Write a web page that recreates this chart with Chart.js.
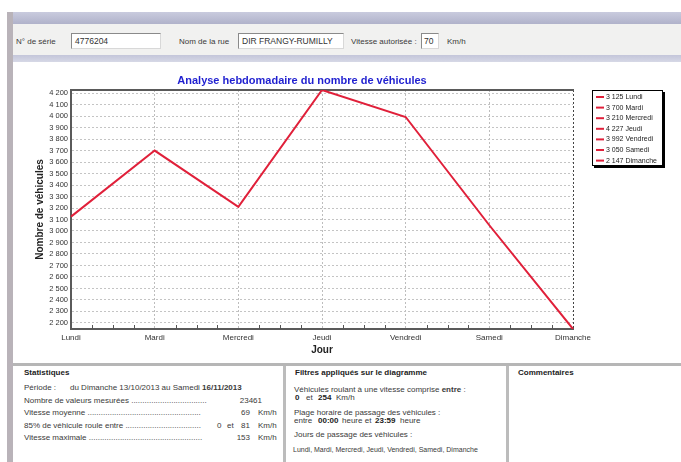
<!DOCTYPE html>
<html><head><meta charset="utf-8">
<script src="https://cdn.jsdelivr.net/npm/chart.js@4"></script>
<style>
body{margin:0;width:681px;height:462px;overflow:hidden;background:#fff;font-family:"Liberation Sans",Arial,sans-serif;position:relative;color:#3a3a3a;font-size:8px}
.a{position:absolute;white-space:nowrap;line-height:10px}
.b{font-weight:bold;color:#222}
.box{position:absolute;background:#fff;border-top:1px solid #8a8a8a;border-left:1px solid #8a8a8a;border-bottom:1px solid #d8d8d8;border-right:1px solid #d8d8d8;box-sizing:border-box;font-size:8.5px;line-height:14px;padding-left:3px;color:#333;white-space:nowrap}
#c{position:absolute;left:13px;top:62px}
</style></head><body>
<div style="position:absolute;left:7px;top:12px;width:674px;height:12px;background:linear-gradient(#c9cbde,#b0b2ca)"></div>
<div style="position:absolute;left:7px;top:24px;width:674px;height:31px;background:#f1f1f0"></div>
<div style="position:absolute;left:7px;top:55px;width:674px;height:7px;background:linear-gradient(#c4c6da,#d6d8e6)"></div>
<div style="position:absolute;left:7px;top:12px;width:6px;height:450px;background:#b9b3b9"></div>

<div class="a" style="left:16px;top:37px">N° de série</div>
<div class="box" style="left:71px;top:33px;width:90px;height:16px">4776204</div>
<div class="a" style="left:179px;top:37px">Nom de la rue</div>
<div class="box" style="left:238px;top:33px;width:106px;height:16px">DIR FRANGY-RUMILLY</div>
<div class="a" style="left:351px;top:37px">Vitesse autorisée :</div>
<div class="box" style="left:421px;top:33px;width:18px;height:16px;padding-left:2px">70</div>
<div class="a" style="left:447px;top:37px">Km/h</div>

<canvas id="c" width="668" height="300"></canvas>

<div style="position:absolute;left:13px;top:363px;width:668px;height:3px;background:#b6b6b6"></div>
<div style="position:absolute;left:283px;top:366px;width:3px;height:96px;background:#bcbcbc"></div>
<div style="position:absolute;left:506px;top:366px;width:3px;height:96px;background:#bcbcbc"></div>

<div class="a b" style="left:24px;top:368px">Statistiques</div>
<div class="a" style="left:24px;top:383px">Période :</div>
<div class="a" style="left:70px;top:383px">du Dimanche 13/10/2013 au Samedi <b>16/11/2013</b></div>
<div class="a" style="left:24px;top:396px">Nombre de valeurs mesurées ..................................</div>
<div class="a" style="left:230px;top:396px;width:32px;text-align:right">23461</div>
<div class="a" style="left:24px;top:408px">Vitesse moyenne ...................................................</div>
<div class="a" style="left:230px;top:408px;width:20px;text-align:right">69</div>
<div class="a" style="left:258px;top:408px">Km/h</div>
<div class="a" style="left:24px;top:421px">85% de véhicule roule entre ..................................</div>
<div class="a" style="left:217px;top:421px">0</div>
<div class="a" style="left:227px;top:421px">et</div>
<div class="a" style="left:230px;top:421px;width:20px;text-align:right">81</div>
<div class="a" style="left:258px;top:421px">Km/h</div>
<div class="a" style="left:24px;top:433px">Vitesse maximale ...................................................</div>
<div class="a" style="left:230px;top:433px;width:20px;text-align:right">153</div>
<div class="a" style="left:258px;top:433px">Km/h</div>

<div class="a b" style="left:295px;top:368px">Filtres appliqués sur le diagramme</div>
<div class="a" style="left:294px;top:385px">Véhicules roulant à une vitesse comprise <b>entre</b> :</div>
<div class="a b" style="left:295px;top:393px">0</div>
<div class="a" style="left:306px;top:393px">et</div>
<div class="a b" style="left:318px;top:393px">254</div>
<div class="a" style="left:336px;top:393px">Km/h</div>
<div class="a" style="left:294px;top:408px">Plage horaire de passage des véhicules :</div>
<div class="a" style="left:294px;top:416px">entre</div>
<div class="a b" style="left:318px;top:416px">00:00</div>
<div class="a" style="left:342px;top:416px">heure et</div>
<div class="a b" style="left:375px;top:416px">23:59</div>
<div class="a" style="left:400px;top:416px">heure</div>
<div class="a" style="left:294px;top:430px">Jours de passage des véhicules :</div>
<div class="a" style="left:293px;top:445px;font-size:7px">Lundi, Mardi, Mercredi, Jeudi, Vendredi, Samedi, Dimanche</div>

<div class="a b" style="left:518px;top:368px">Commentaires</div>

<script>
const days = ['Lundi','Mardi','Mercredi','Jeudi','Vendredi','Samedi','Dimanche'];
const vehicles = [3125, 3700, 3210, 4227, 3992, 3050, 2147];
const yTicks = [2200,2300,2400,2500,2600,2700,2800,2900,3000,3100,3200,3300,3400,3500,3600,3700,3800,3900,4000,4100,4200];
const yMin = 2147;
const yMax = 4227;
const titleText = 'Analyse hebdomadaire du nombre de véhicules';
const yTitle = 'Nombre de véhicules';
const xTitle = 'Jour';

const fmt = n => String(n).replace(/\B(?=(\d{3})+(?!\d))/g, ' ');
const FONT = '"Liberation Sans", Arial, sans-serif';
const RED = '#e0203a';

const extras = {
  id: 'extras',
  beforeDatasetsDraw(chart) {
    const {ctx, chartArea: a, scales: {x}} = chart;
    ctx.save();
    ctx.strokeStyle = '#5a5a5a'; ctx.lineWidth = 2;
    ctx.beginPath(); ctx.moveTo(a.left - 1, a.top); ctx.lineTo(a.right + 1, a.top); ctx.stroke();
    ctx.lineWidth = 1; ctx.strokeStyle = '#555';
    for (let i = 0; i < days.length - 1; i++) {
      for (let k = 1; k < 4; k++) {
        const px = Math.round(x.getPixelForValue(i + k / 4)) + 0.5;
        ctx.beginPath(); ctx.moveTo(px, a.bottom); ctx.lineTo(px, a.bottom - 4); ctx.stroke();
      }
    }
    ctx.restore();
  },
  afterDraw(chart) {
    const {ctx} = chart;
    const bx = 579, by = 28, bw = 71, bh = 76;
    ctx.save();
    ctx.fillStyle = '#000';
    ctx.fillRect(bx + 2, by + 2, bw, bh);
    ctx.fillStyle = '#fff';
    ctx.fillRect(bx, by, bw, bh);
    ctx.strokeStyle = '#000'; ctx.lineWidth = 1;
    ctx.strokeRect(bx + 0.5, by + 0.5, bw - 1, bh - 1);
    ctx.font = '7px ' + FONT;
    ctx.textBaseline = 'middle';
    for (let i = 0; i < days.length; i++) {
      const y = by + 7 + i * 10.6;
      ctx.strokeStyle = RED; ctx.lineWidth = 2;
      ctx.beginPath(); ctx.moveTo(bx + 4, y); ctx.lineTo(bx + 12, y); ctx.stroke();
      ctx.fillStyle = '#222';
      ctx.fillText(fmt(vehicles[i]) + ' ' + days[i], bx + 14, y);
    }
    ctx.restore();
  }
};

new Chart(document.getElementById('c'), {
  type: 'line',
  data: {
    labels: days,
    datasets: [{data: vehicles, borderColor: RED, borderWidth: 2, pointRadius: 0, tension: 0, fill: false}]
  },
  options: {
    responsive: false, animation: false, devicePixelRatio: 1,
    layout: {padding: {left: 18, right: 108, top: 0, bottom: 0}},
    plugins: {
      legend: {display: false}, tooltip: {enabled: false},
      title: {display: true, text: titleText, color: '#1f1fd0',
        font: {family: FONT, size: 11, weight: 'bold'}, padding: {top: 12, bottom: 2.8}}
    },
    scales: {
      x: {
        offset: false,
        grid: {color: ctx => ctx.index === days.length - 1 ? '#444' : '#bdbdbd', lineWidth: 1, drawTicks: false},
        border: {display: true, color: '#5a5a5a', width: 2, dash: [2, 2]},
        ticks: {padding: 4, color: '#333', font: {family: FONT, size: 8}, maxRotation: 0, autoSkip: false},
        title: {display: true, text: xTitle, color: '#222', font: {family: FONT, size: 10, weight: 'bold'}, padding: {top: 0, bottom: 6}},
        afterFit(s) { s.height = 33; }
      },
      y: {
        min: yMin, max: yMax,
        afterBuildTicks(s) { s.ticks = yTicks.map(v => ({value: v})); },
        grid: {color: '#c4c4c4', lineWidth: 1, drawTicks: false},
        border: {display: true, color: '#5a5a5a', width: 2, dash: [2, 2]},
        ticks: {padding: 3, color: '#333', font: {family: FONT, size: 7.5}, autoSkip: false, callback: v => fmt(v)},
        title: {display: true, text: yTitle, color: '#222', font: {family: FONT, size: 10, weight: 'bold'}, padding: {top: 3, bottom: 0}},
        afterFit(s) { s.width = 40; }
      }
    }
  },
  plugins: [extras]
});
</script>
</body></html>
